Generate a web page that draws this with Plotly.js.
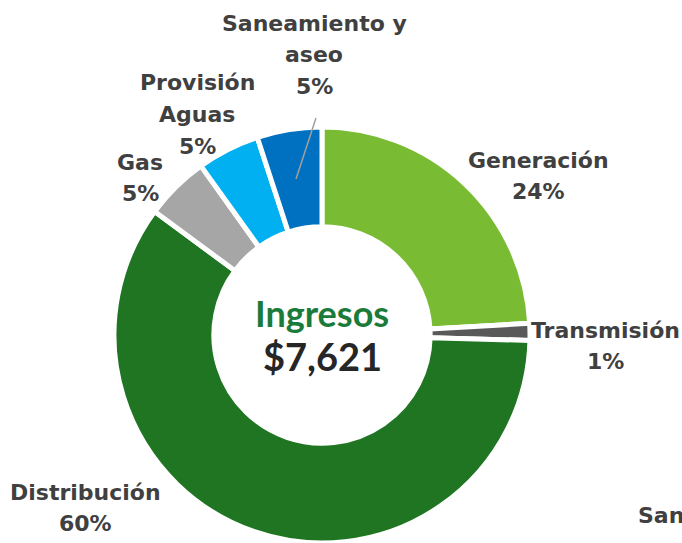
<!DOCTYPE html>
<html>
<head>
<meta charset="utf-8">
<script src="https://cdn.plot.ly/plotly-3.0.1.min.js"></script>
<style>html,body{margin:0;padding:0;background:#fff;overflow:hidden}#chart{width:682px;height:543px}</style>
</head>
<body>
<div id="chart"></div>
<script>
// Data (millions, total $7,621)
const categories = ["Generación", "Transmisión", "Distribución", "Gas", "Provisión Aguas", "Saneamiento y aseo"];
const labelLines = [["Generación"], ["Transmisión"], ["Distribución"], ["Gas"], ["Provisión", "Aguas"], ["Saneamiento y", "aseo"]];
const values = [1837, 100, 4550, 380, 370, 384];
const colors = ["#79BC33", "#595959", "#1F7522", "#A6A6A6", "#00B0F0", "#0070C0"];
const centerTitle = "Ingresos";
const centerValue = "$7,621";
const cutLabel = "Saneamiento";

// Layout positions (pixels)
const W = 682, H = 543;
const cx = 322, cy = 335, R = 208;
const labelPos = [[538, 160], [605, 330], [85, 492], [140, 162], [197, 83], [314, 23]];
const lineGap = 31.5;

const total = values.reduce((a, b) => a + b, 0);
const pct = values.map(v => Math.round(v / total * 100) + "%");

const px = x => x / W;
const py = y => 1 - y / H;

const trace = {
  type: "pie",
  values: values,
  labels: categories,
  marker: {colors: colors, line: {color: "#ffffff", width: 5}},
  hole: 0.52,
  sort: false,
  direction: "clockwise",
  rotation: 0,
  textinfo: "none",
  hoverinfo: "label+percent",
  domain: {x: [px(cx - R), px(cx + R)], y: [py(cy + R), py(cy - R)]},
  showlegend: false
};

const labelFont = {family: "DejaVu Sans", size: 22, color: "#404040"};
const annotations = [];
categories.forEach((c, i) => {
  const lines = labelLines[i].concat([pct[i]]);
  lines.forEach((t, j) => {
    annotations.push({
      xref: "paper", yref: "paper",
      x: px(labelPos[i][0]), y: py(labelPos[i][1] + j * lineGap),
      xanchor: "center", yanchor: "middle",
      text: "<b>" + t + "</b>",
      showarrow: false,
      font: labelFont
    });
  });
});

annotations.push({
  xref: "paper", yref: "paper", x: px(cx), y: py(313),
  xanchor: "center", yanchor: "middle", showarrow: false,
  text: "<b>" + centerTitle + "</b>",
  font: {family: "Lato", size: 36, color: "#1A7B3A"}
});
annotations.push({
  xref: "paper", yref: "paper", x: px(cx), y: py(356),
  xanchor: "center", yanchor: "middle", showarrow: false,
  text: "<b>" + centerValue + "</b>",
  font: {family: "Lato", size: 38, color: "#262626"}
});
annotations.push({
  xref: "paper", yref: "paper", x: px(636), y: py(515),
  xanchor: "left", yanchor: "middle", showarrow: false,
  text: "<b>" + cutLabel + "</b>",
  font: labelFont
});

const layout = {
  width: W, height: H,
  margin: {l: 0, r: 0, t: 0, b: 0},
  paper_bgcolor: "#ffffff",
  annotations: annotations,
  shapes: [{
    type: "line", xref: "paper", yref: "paper",
    x0: px(316), y0: py(118), x1: px(296), y1: py(179),
    line: {color: "#A0A0A0", width: 1.5}
  }]
};

Plotly.newPlot("chart", [trace], layout, {staticPlot: true});
</script>
</body>
</html>
